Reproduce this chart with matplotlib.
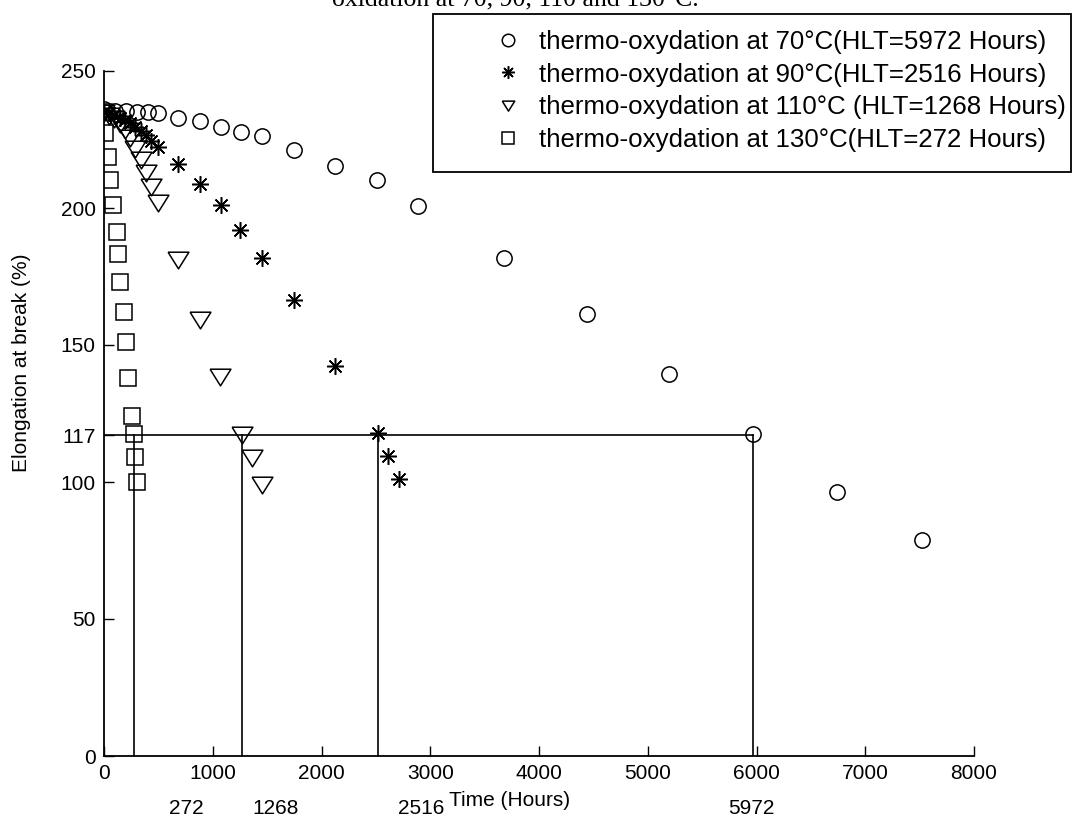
import matplotlib
matplotlib.use("Agg")
import matplotlib.pyplot as plt
from matplotlib.transforms import blended_transform_factory
from matplotlib.patches import Rectangle

plt.rcParams['font.family'] = ['Liberation Sans', 'DejaVu Sans']

# ---- data ----
t70 = [0, 100, 200, 300, 400, 500, 683, 883, 1073, 1257, 1453, 1750, 2120, 2508, 2890,
       3678, 4444, 5195, 5972, 6743, 7519]
e70 = [236, 235.5, 235.5, 235, 235, 234.5, 232.7, 231.7, 229.7, 227.8, 226.1, 221.1,
       215.5, 210.2, 200.9, 181.8, 161.3, 139.5, 117.4, 96.2, 78.8]

t90 = [0, 48, 96, 144, 192, 240, 288, 336, 384, 432, 499, 683, 883, 1073, 1251, 1456,
       1747, 2124, 2516, 2611, 2713]
e90 = [235, 234.5, 234, 233, 232, 231, 229.5, 228, 226.5, 224.5, 222.2, 216.1, 208.8,
       201.1, 192.1, 181.6, 166.4, 142.3, 117.8, 109.5, 101.1]

t110 = [0, 48, 96, 144, 192, 240, 288, 336, 384, 432, 499, 683, 883, 1067, 1268, 1364, 1456]
e110 = [235, 234, 233, 231, 229, 226, 222, 218, 213, 208, 202.2, 181.4, 159.5, 138.7,
        117.5, 109.1, 99.3]

t130 = [0, 9, 40, 55, 86, 115, 131, 147, 184, 202, 223, 260, 272, 285, 300]
e130 = [235, 227.3, 218.7, 210.2, 201.0, 191.4, 183.2, 172.9, 162.2, 151.0, 137.8,
        124.1, 117.5, 109.1, 99.9]

hlt = [272, 1268, 2516, 5972]
hlt_labels = ['272', '1268', '2516', '5972']
hlt_label_x = [754, 1582, 2915, 5949]
e_half = 117

labels = ['thermo-oxydation at 70°C(HLT=5972 Hours)',
          'thermo-oxydation at 90°C(HLT=2516 Hours)',
          'thermo-oxydation at 110°C (HLT=1268 Hours)',
          'thermo-oxydation at 130°C(HLT=272 Hours)']

xticks = [0, 1000, 2000, 3000, 4000, 5000, 6000, 7000, 8000]
yticks = [0, 50, 100, 117, 150, 200, 250]

# ---- figure ----
W, H = 1076, 831
fig = plt.figure(figsize=(W / 100, H / 100), dpi=100)
ax = fig.add_axes([104 / W, 1 - 756 / H, (974 - 104) / W, (756 - 71) / H])

tri = [(-1.0, 0.7), (1.0, 0.7), (0.0, -0.9), (-1.0, 0.7)]
ast = (8, 2, 0)

kw = dict(linestyle='none', color='black', markerfacecolor='none', markeredgewidth=1.1)
h1, = ax.plot(t70, e70, marker='o', markersize=11, **kw)
h2, = ax.plot(t90, e90, marker=ast, markersize=12, linestyle='none', color='black',
              markeredgewidth=1.1)
h3, = ax.plot(t110, e110, marker=tri, markersize=15, **kw)
h4, = ax.plot(t130, e130, marker='s', markersize=12, **kw)

# half-life guide lines
ax.plot([0, hlt[-1]], [e_half, e_half], color='black', lw=1.2)
for x in hlt:
    ax.plot([x, x], [0, e_half], color='black', lw=1.2)

ax.set_xlim(0, 8000)
ax.set_ylim(0, 250)
ax.set_xticks(xticks)
ax.set_yticks(yticks)
ax.tick_params(direction='in', length=7, width=1, labelsize=15, pad=6)
for s in ['top', 'right']:
    ax.spines[s].set_visible(False)
for s in ['left', 'bottom']:
    ax.spines[s].set_linewidth(1.3)

trans = blended_transform_factory(ax.transData, fig.transFigure)
for xl, lab in zip(hlt_label_x, hlt_labels):
    ax.text(xl, 1 - 808 / H, lab, transform=trans, ha='center', va='center', fontsize=15)
ax.text(3733, 1 - 800 / H, 'Time (Hours)', transform=trans, ha='center', va='center',
        fontsize=15)
fig.text(22 / W, 1 - 363 / H, 'Elongation at break (%)', ha='center', va='center',
         rotation=90, fontsize=15)

# cropped caption at the very top of the image
fig.text(515 / W, 1 - 5 / H, 'oxidation at 70, 90, 110 and 130°C.', ha='center',
         va='baseline', fontsize=18.5, family='Liberation Serif')

# legend with a square frame
fig.patches.append(Rectangle((433 / W, 1 - 172 / H), (1071 - 433) / W, (172 - 14) / H,
                             transform=fig.transFigure, fill=False, edgecolor='black',
                             linewidth=1.3))
leg = fig.legend([h1, h2, h3, h4], labels, loc='upper left',
                 bbox_to_anchor=(487 / W, 1 - 30 / H), fontsize=18.6, frameon=False,
                 borderpad=0, labelspacing=0.33, handlelength=1.6, handletextpad=0.4,
                 borderaxespad=0)
for lh in leg.legend_handles:
    lh.set_markersize(9)

fig.savefig('out.png', dpi=100)
